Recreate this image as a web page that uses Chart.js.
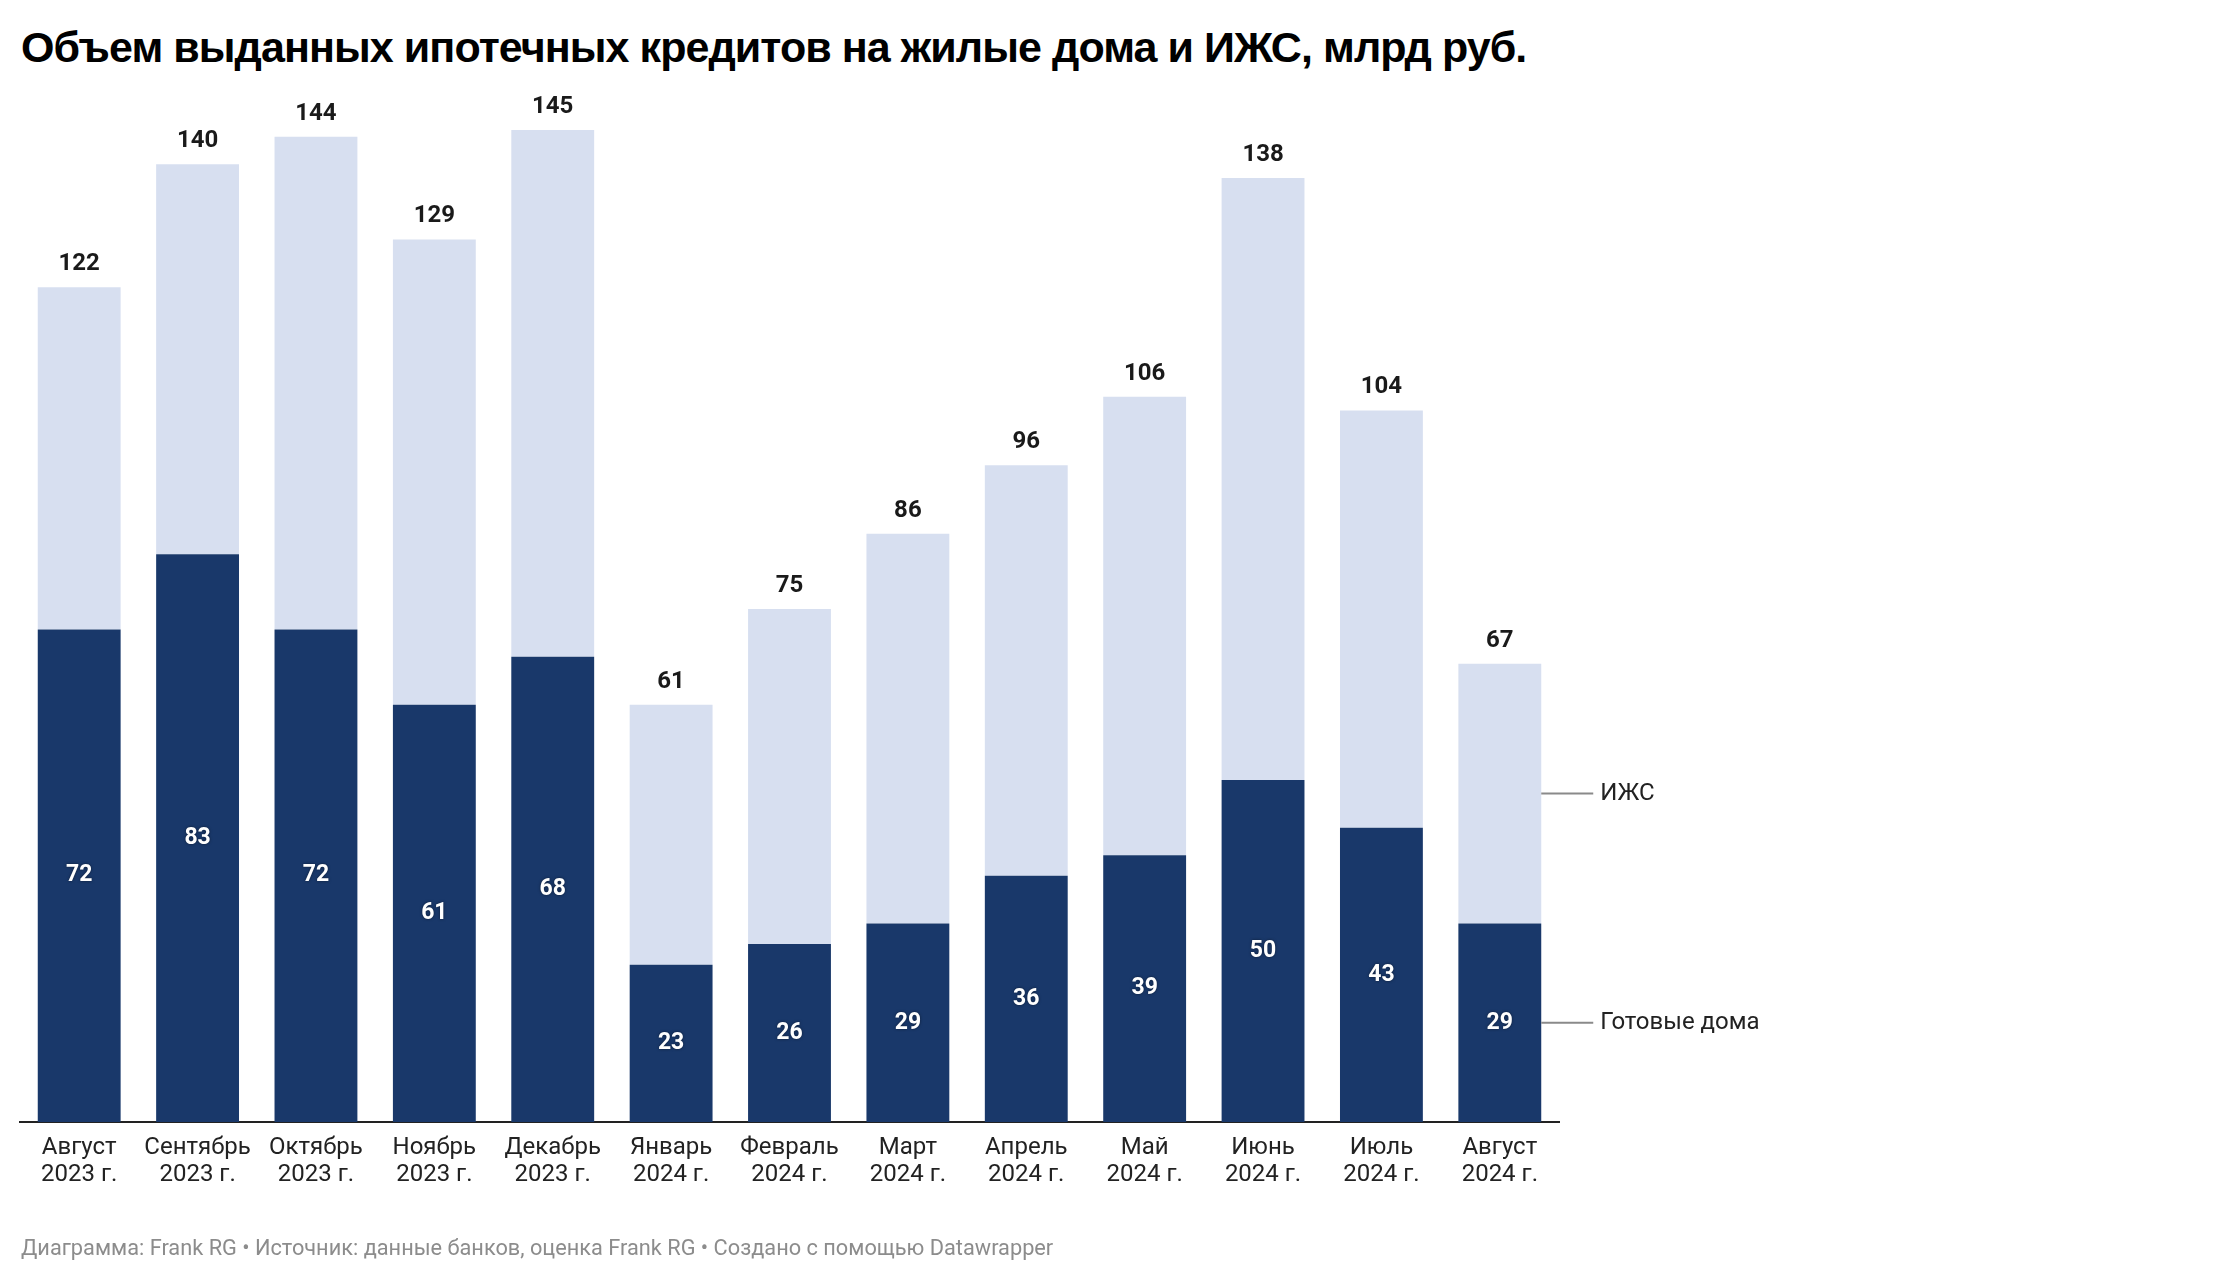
<!DOCTYPE html>
<html>

<head>
    <title>Объем выданных ипотечных кредитов</title>

    <style>
        html,
        body {
            margin: 0;
            padding: 0;
            background-color: #fff;
            width: 2240px;
            height: 1282px;
            overflow: hidden;
            position: relative;
        }

        #title {
            position: absolute;
            left: 21px;
            top: 26px;
            font-family: "Liberation Sans", Arial, sans-serif;
            font-weight: bold;
            font-size: 43px;
            line-height: 1;
            letter-spacing: -0.93px;
            color: #000;
            white-space: nowrap;
        }

        #footer {
            position: absolute;
            left: 21px;
            top: 1237px;
            font-family: Roboto, sans-serif;
            font-size: 21.75px;
            line-height: 1;
            color: #8c8c8c;
            white-space: nowrap;
        }

        #chart {
            position: absolute;
            left: 0;
            top: 0;
        }
    </style>
</head>

<body>
    <div id="title">Объем выданных ипотечных кредитов на жилые дома и ИЖС, млрд руб.</div>
    <canvas id="chart" width="2240" height="1282"></canvas>
    <div id="footer">Диаграмма: Frank RG • Источник: данные банков, оценка Frank RG • Создано с помощью Datawrapper</div>

    <script src="https://cdn.jsdelivr.net/npm/chart.js"></script>
    <script>
        const months = [
            ['Август', '2023 г.'], ['Сентябрь', '2023 г.'], ['Октябрь', '2023 г.'],
            ['Ноябрь', '2023 г.'], ['Декабрь', '2023 г.'], ['Январь', '2024 г.'],
            ['Февраль', '2024 г.'], ['Март', '2024 г.'], ['Апрель', '2024 г.'],
            ['Май', '2024 г.'], ['Июнь', '2024 г.'], ['Июль', '2024 г.'], ['Август', '2024 г.'],
        ];
        const totals = [122, 140, 144, 129, 145, 61, 75, 86, 96, 106, 138, 104, 67];
        const ready = [72, 83, 72, 61, 68, 23, 26, 29, 36, 39, 50, 43, 29];
        const izhs = totals.map((t, i) => t - ready[i]);

        const seriesNames = ['Готовые дома', 'ИЖС'];
        const colorDark = '#19386a';
        const colorLight = '#d7dff0';

        // value labels: inside the dark part and totals above each bar
        const valueLabels = {
            id: 'valueLabels',
            afterDatasetsDraw(chart) {
                const ctx = chart.ctx;
                const dark = chart.getDatasetMeta(0).data;
                const light = chart.getDatasetMeta(1).data;
                ctx.save();
                ctx.textAlign = 'center';
                ctx.textBaseline = 'middle';

                ctx.font = 'bold 23px Roboto';
                ctx.fillStyle = '#fff';
                ctx.shadowColor = 'rgba(0,0,0,0.5)';
                ctx.shadowBlur = 3;
                dark.forEach((bar, i) => {
                    ctx.fillText(ready[i], bar.x, (bar.y + bar.base) / 2);
                });

                ctx.shadowColor = 'transparent';
                ctx.font = 'bold 24px Roboto';
                ctx.fillStyle = '#1a1a1a';
                light.forEach((bar, i) => {
                    ctx.fillText(totals[i], bar.x, bar.y - 23);
                });

                // series labels to the right of the last bar
                const last = dark.length - 1;
                const rows = [
                    [seriesNames[1], (light[last].y + light[last].base) / 2],
                    [seriesNames[0], (dark[last].y + dark[last].base) / 2],
                ];
                const x0 = dark[last].x + dark[last].width / 2;
                ctx.font = '24px Roboto';
                ctx.textAlign = 'left';
                rows.forEach(([name, y]) => {
                    ctx.strokeStyle = '#8a8a8a';
                    ctx.lineWidth = 2;
                    ctx.beginPath();
                    ctx.moveTo(x0, y);
                    ctx.lineTo(x0 + 52, y);
                    ctx.stroke();
                    ctx.fillStyle = '#222';
                    ctx.fillText(name, x0 + 59, y);
                });
                ctx.restore();
            }
        };

        new Chart(document.getElementById('chart'), {
            type: 'bar',
            data: {
                labels: months,
                datasets: [
                    { label: seriesNames[0], data: ready, backgroundColor: colorDark },
                    { label: seriesNames[1], data: izhs, backgroundColor: colorLight },
                ]
            },
            options: {
                responsive: false,
                animation: false,
                events: [],
                categoryPercentage: 1,
                barPercentage: 0.7,
                layout: {
                    padding: { left: 20, right: 681, top: 130, bottom: 0 }
                },
                plugins: {
                    legend: { display: false },
                    tooltip: { enabled: false },
                },
                scales: {
                    x: {
                        stacked: true,
                        grid: { display: false, drawTicks: false },
                        border: { display: true, color: '#222', width: 2 },
                        ticks: {
                            color: '#222',
                            padding: 12,
                            maxRotation: 0,
                            autoSkip: false,
                            font: { family: 'Roboto', size: 24, lineHeight: 1.15 },
                        },
                        afterFit: (scale) => { scale.height = 160; },
                    },
                    y: {
                        stacked: true,
                        display: false,
                        min: 0,
                        max: 145,
                    }
                }
            },
            plugins: [valueLabels]
        });
    </script>
</body>

</html>
